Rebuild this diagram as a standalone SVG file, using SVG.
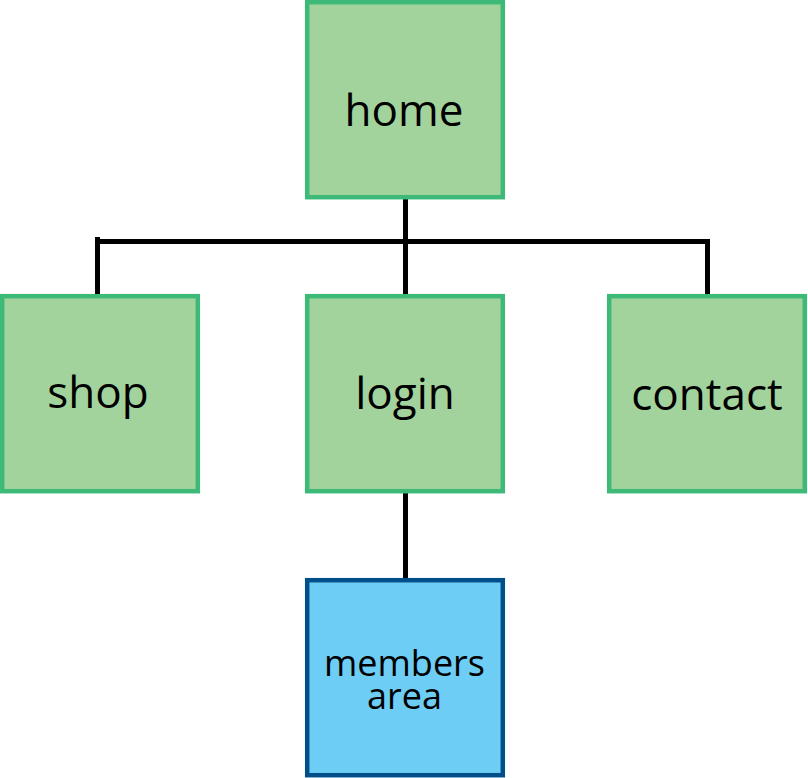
<svg xmlns="http://www.w3.org/2000/svg" width="808" height="778" viewBox="0 0 808 778">
<style>
.g{fill:#a3d39c;stroke:#3dba78;stroke-width:4.5}
.b{fill:#6dcdf5;stroke:#004f8a;stroke-width:4.5}
.t{font-family:"Open Sans","Noto Sans",sans-serif;font-size:44px;fill:#000;text-anchor:middle}
.s{font-size:36px}
.c{fill:none;stroke:#000;stroke-width:5}
</style>
<rect width="808" height="778" fill="#fff"/>
<g id="connectors">
<path class="c" d="M405.5 198V295"/>
<path class="c" d="M97.5 295V237"/>
<path class="c" d="M95 241.5H707.5V295"/>
<path class="c" d="M405.5 492V580"/>
</g>
<g id="home"><rect class="g" x="307.2" y="2.2" width="195.6" height="195"/><text class="t" x="404" y="126">home</text></g>
<g id="shop"><rect class="g" x="2.2" y="296.2" width="195.6" height="195"/><text class="t" x="98" y="408">shop</text></g>
<g id="login"><rect class="g" x="307.2" y="296.2" width="195.6" height="195"/><text class="t" x="405" y="409">login</text></g>
<g id="contact"><rect class="g" x="609.2" y="296.2" width="195.6" height="195"/><text class="t" x="707" y="410">contact</text></g>
<g id="members"><rect class="b" x="307.2" y="580.2" width="195.6" height="195"/><text class="t s" x="404.5" y="676">members</text><text class="t s" x="404.5" y="709">area</text></g>
</svg>
